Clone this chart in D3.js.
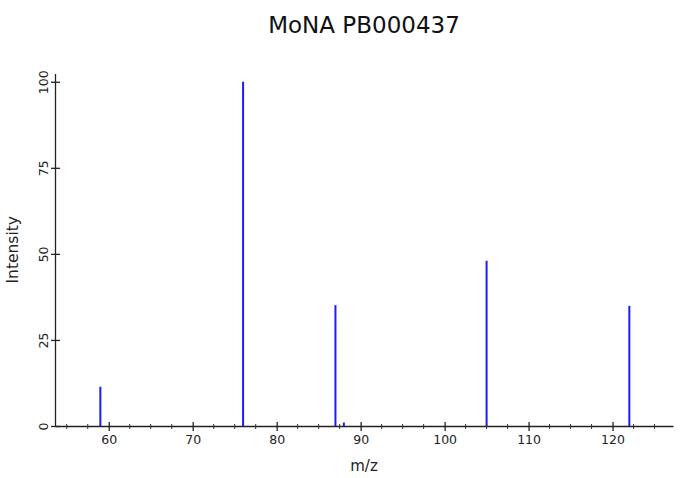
<!DOCTYPE html>
<html><head><meta charset="utf-8">
<script src="https://cdn.jsdelivr.net/npm/d3@7"></script>
<style>body{margin:0;background:#fff}svg{display:block}text{font-family:"DejaVu Sans",sans-serif}</style>
</head><body><svg id="c" width="682" height="478"></svg>
<script>
const title = "MoNA PB000437";
const mzValues = [59, 76, 87, 88, 105, 122];
const intensities = [11.4, 100, 35.1, 1.0, 48.0, 34.9];
const xMajorTicks = [60, 70, 80, 90, 100, 110, 120];
const yMajorTicks = [0, 25, 50, 75, 100];
const xLabel = "m/z", yLabel = "Intensity";

const svg = d3.select("#c");
const x = d3.scaleLinear().domain([53.6, 127.2]).range([55, 673]);
const y = d3.scaleLinear().domain([0, 102.4]).range([426, 73.5]);
const peaks = mzValues.map((m, i) => ({mz: m, v: intensities[i]}));

// peaks
svg.append("g").selectAll("line").data(peaks).join("line")
  .attr("x1", d => x(d.mz)).attr("x2", d => x(d.mz))
  .attr("y1", y(0)).attr("y2", d => y(d.v))
  .attr("stroke", "#1a1aff").attr("stroke-width", 2);

// x axis
const xMinor = d3.range(55, 127.3, 2.5).filter(v => !xMajorTicks.includes(v));
const gx = svg.append("g").attr("transform", `translate(0,${y(0)})`)
  .call(d3.axisBottom(x).tickValues(xMajorTicks).tickSize(0).tickPadding(9).tickFormat(d3.format("d")));
gx.select(".domain").attr("stroke", "#222").attr("stroke-width", 1.3);
gx.selectAll(".tick text").attr("font-size", 12.5).attr("fill", "#222");
gx.selectAll(".tick line").attr("y1", -4).attr("y2", 5).attr("stroke", "#222").attr("stroke-width", 1.3);
svg.append("g").selectAll("line").data(xMinor).join("line")
  .attr("x1", d => x(d)).attr("x2", d => x(d))
  .attr("y1", y(0) - 2).attr("y2", y(0) + 3)
  .attr("stroke", "#333").attr("stroke-width", 1);

// y axis
const gy = svg.append("g").attr("transform", `translate(${x(53.6)},0)`)
  .call(d3.axisLeft(y).tickValues(yMajorTicks).tickSize(0).tickFormat(d3.format("d")));
gy.select(".domain").attr("stroke", "#222").attr("stroke-width", 1.3);
gy.selectAll(".tick line").attr("x1", -4).attr("x2", 5).attr("stroke", "#222").attr("stroke-width", 1.3);
gy.selectAll(".tick text").attr("font-size", 12.5).attr("fill", "#222")
  .attr("text-anchor", "middle").attr("dy", null)
  .attr("x", null).attr("transform", "translate(-12,0) rotate(-90)").attr("dominant-baseline", "central");

// labels
svg.append("text").attr("x", 364).attr("y", 33).attr("text-anchor", "middle")
  .attr("font-size", 23).attr("fill", "#111").text(title);
svg.append("text").attr("x", x(90.4)).attr("y", 471).attr("text-anchor", "middle")
  .attr("font-size", 15).attr("fill", "#222").text(xLabel);
svg.append("text").attr("transform", `translate(18,${y(51.2)}) rotate(-90)`).attr("text-anchor", "middle")
  .attr("font-size", 15.5).attr("fill", "#222").text(yLabel);
</script></body></html>
